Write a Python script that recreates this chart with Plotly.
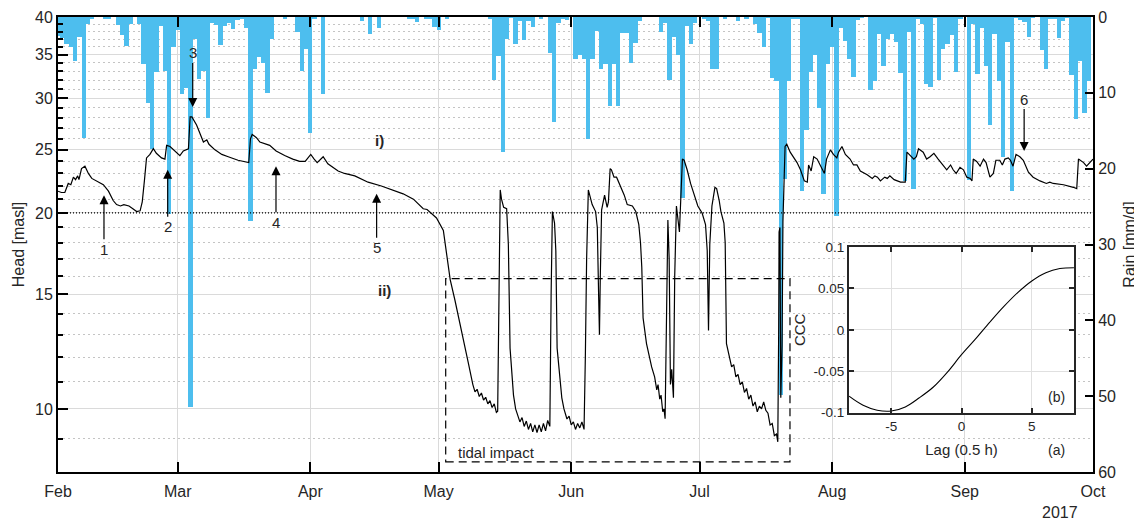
import math
import pandas as pd
import plotly.graph_objects as go

START = pd.Timestamp("2017-02-01")

# ---------------- data ----------------
rain_mm = [
    2.5, 2.8, 3.5, 4.0, 5.8, 2.7, 16.0, 0.9, 0.3, 0,
    0, 0.2, 0.3, 0, 1.0, 2.4, 3.8, 0.9, 0, 0.9,
    6.2, 11.3, 17.4, 7.2, 1.2, 7.1, 26.0, 4.0, 1.7, 10.2,
    9.3, 51.4, 2.9, 8.2, 7.1, 13.3, 0.8, 1.1, 3.7, 1.2,
    0.8, 1.6, 0.4, 0.3, 1.4, 26.9, 6.9, 5.3, 6.0, 10.0,
    2.9, 0, 0, 0.3, 0, 0, 2.0, 7.1, 4.2, 15.3,
    0.3, 0, 10.2, 0, 0, 0, 0, 0, 0, 0,
    0, 0.5, 0, 2.3, 0, 1.5, 0, 0, 0, 0,
    0, 0, 0.2, 0.3, 0.6, 0, 0.2, 0.2, 1.3, 1.7,
    0, 0.2, 0, 0, 0, 0, 0, 0, 0, 0,
    0, 0.2, 8.3, 5.1, 17.8, 2.9, 0.1, 3.6, 0.5, 3.0,
    0.5, 1.3, 0, 0.2, 0, 4.8, 13.8, 0.8, 0.3, 0.4,
    0, 5.5, 5.0, 5.6, 16.1, 5.5, 1.8, 6.8, 6.2, 11.7,
    6.2, 11.7, 2.1, 2.1, 6.0, 3.4, 0.5, 0, 0, 0,
    0, 2.0, 0.8, 8.3, 2.7, 5.0, 23.9, 1.2, 3.6, 0.8,
    0, 0.2, 0.5, 6.9, 6.9, 0, 0.2, 0, 0, 0.5,
    0, 0.2, 0, 0.9, 2.1, 4.0, 0.1, 8.0, 8.4, 49.8,
    21.4, 8.4, 0.3, 0.2, 22.9, 14.9, 7.2, 5.0, 12.0, 23.3,
    6.2, 3.9, 26.2, 1.4, 3.1, 5.5, 7.9, 0.4, 0.1, 0,
    9.6, 8.4, 2.2, 6.5, 2.9, 2.2, 3.3, 7.4, 21.6, 2.0,
    22.7, 0.3, 0.9, 8.9, 9.2, 0.1, 8.3, 4.2, 3.6, 2.4,
    7.2, 0.3, 0, 21.5, 0.9, 7.5, 1.4, 6.4, 14.2, 2.2,
    8.4, 18.4, 3.3, 22.9, 0.1, 0.4, 0.6, 2.6, 0.1, 0,
    4.4, 6.9, 0.3, 0.3, 2.8, 0.5, 0.1, 7.6, 13.5, 5.8,
    12.6, 8.4,
]

# head: days since 1 Feb 2017, value in masl
head_day = [
    0.0, 0.8, 1.6, 2.4, 3.0, 3.6, 4.1, 4.6, 4.9, 5.5, 6.3, 7.1, 7.9, 9.0, 10.6, 11.8,
    12.9, 13.7, 14.6, 15.4, 16.6, 17.5, 18.4, 19.2, 19.7, 20.2, 20.7, 21.5, 22.3, 23.0,
    24.2, 25.0, 25.4, 26.2, 27.4, 28.5, 29.3, 30.5, 30.9, 31.3, 32.4, 34.0, 34.8, 35.3,
    36.7, 38.3, 39.8, 42.1, 44.6, 45.0, 45.4, 46.4, 47.2, 48.7, 49.5, 51.0, 53.0, 54.9,
    56.5, 57.8, 58.3, 59.1, 59.9, 60.6, 62.0, 62.5, 63.1, 65.5, 67.0, 69.4, 72.5, 75.6,
    78.7, 80.7, 83.1, 85.4, 86.3, 88.5, 90.1, 90.9, 91.7, 92.8, 94.4, 95.9,
    97.0, 97.5, 98.0, 98.5, 99.0, 99.5, 100.0, 100.5, 101.0, 101.5, 102.0, 102.5, 102.8,
    103.15, 103.4, 103.7, 104.2, 104.9, 105.3, 105.7, 106.5, 107.0,
    107.5, 108.0, 108.5, 109.0, 109.5, 110.0, 110.5, 111.0, 111.5, 112.0, 112.5, 113.0,
    113.5, 114.0, 114.5, 115.0,
    115.3, 115.6, 116.1, 116.4, 116.7, 117.8, 118.3,
    118.5, 119.0, 119.5, 120.0, 120.5, 121.0, 121.5, 122.0, 122.5, 123.0,
    123.3, 123.6, 124.0, 124.9, 125.7, 126.1, 126.4, 126.6, 126.8, 127.1, 127.8, 128.4,
    128.7, 129.1, 129.4, 130.0, 130.6, 131.6, 132.4, 133.1, 134.3, 135.1, 135.8, 136.2,
    136.5, 136.8, 137.6, 138.8,
    139.5, 140.0, 140.3, 140.7, 141.0, 141.4, 141.7, 141.95,
    142.3, 142.6, 142.9, 143.2, 143.5, 143.9, 144.2, 144.6, 145.3, 146.0, 146.4, 147.1,
    147.9, 148.7, 149.6, 150.6, 151.4, 151.8, 152.1, 152.4, 152.9, 153.6, 154.0, 154.6,
    155.0, 155.7, 156.0, 156.3,
    157.0, 157.5, 158.0, 158.5, 159.0, 159.5, 160.0, 160.5, 161.0, 161.5, 162.0, 162.5,
    163.0, 163.5, 164.0, 164.5, 165.0, 165.5, 166.0, 166.5, 167.0, 167.5, 168.0, 168.3,
    168.5, 168.6, 168.8, 169.0, 169.3, 169.5, 170.0, 170.4,
    171.2, 172.8, 173.6, 174.5, 175.2, 175.5, 176.1, 176.7, 177.5, 178.2, 178.7, 179.2,
    179.7, 180.6, 181.3, 182.1, 182.5, 183.3, 184.1, 185.2, 186.0, 186.8, 187.6, 189.2,
    190.4, 191.0, 191.6, 192.3, 193.3, 193.9, 194.5, 195.5, 197.0, 198.1, 198.5, 199.3,
    200.1, 200.7, 201.2, 202.3, 203.1, 203.9, 204.8, 205.8, 207.0, 207.8, 208.7, 209.3,
    210.0, 210.9, 211.7, 212.5, 213.3, 213.7, 214.0, 214.8, 215.6, 216.4, 217.0, 217.9,
    218.7, 219.3, 220.2, 220.8, 221.4, 222.2, 222.7, 223.3, 224.0, 224.9, 225.7, 226.9,
    228.0, 229.6, 231.1, 231.9, 232.7, 235.1, 237.4, 238.2, 238.6, 239.8, 240.5, 241.3,
    242.0,
]
head_masl = [
    21.6, 21.5, 21.5, 22.2, 22.1, 22.7, 22.5, 22.8, 22.5, 23.4, 23.6, 23.0, 22.6, 22.4, 22.1, 21.6,
    20.9, 20.6, 20.5, 20.6, 20.5, 20.3, 20.1, 20.15, 20.8, 22.4, 24.3, 24.6, 25.1, 24.7,
    24.3, 24.2, 25.4, 25.3, 24.9, 24.5, 24.9, 25.1, 28.1, 28.1, 27.3, 25.7, 25.9, 25.5,
    25.0, 24.6, 24.4, 24.1, 23.9, 26.0, 26.4, 26.1, 25.7, 25.5, 25.4, 24.9, 24.5, 24.2,
    24.0, 24.0, 24.2, 24.6, 24.2, 23.9, 24.4, 24.1, 23.8, 23.2, 23.0, 22.8, 22.3, 22.0,
    21.6, 21.4, 21.0, 20.3, 20.25, 19.65, 18.8, 17.2, 15.8, 14.7, 13.2, 11.8,
    10.90, 10.62, 10.72, 10.45, 10.58, 10.32, 10.42, 10.18, 10.30, 10.05, 10.18, 9.88, 9.92,
    15.0, 21.7, 21.0, 20.4, 20.3, 17.9, 12.4, 10.5, 10.0,
    9.80, 9.55, 9.70, 9.40, 9.58, 9.30, 9.50, 9.22, 9.45, 9.20, 9.45, 9.22,
    9.50, 9.25, 9.60, 9.40,
    15.0, 20.1, 19.3, 17.5, 12.4, 10.4, 10.0,
    9.90, 9.65, 9.75, 9.45, 9.55, 9.30, 9.50, 9.35, 9.55, 9.30,
    12.0, 17.0, 21.7, 20.6, 20.1, 19.0, 15.0, 13.0, 16.0, 20.2, 21.3, 20.4,
    20.8, 23.4, 23.3, 22.7, 22.7, 21.9, 21.3, 20.6, 20.5, 20.1, 19.2, 18.0,
    16.5, 13.8, 12.6, 11.6,
    11.2, 10.7, 10.9, 10.35, 10.5, 9.9, 10.0, 9.66,
    16.0, 19.5, 17.0, 10.9, 11.5, 10.4, 16.0, 20.5, 18.7, 24.2, 24.1, 23.3,
    22.2, 21.4, 20.5, 20.0, 19.2, 17.5, 13.2, 17.9, 20.5, 21.9, 21.8, 20.9,
    20.1, 19.3, 18.0, 12.6,
    12.0, 11.6, 11.7, 11.2, 11.3, 10.9, 11.0, 10.6, 10.75, 10.35, 10.5, 10.1,
    10.25, 9.9, 10.1, 10.0, 10.25, 9.95, 9.85, 9.45, 9.5, 9.1, 9.15, 8.9,
    13.0, 18.7, 19.0, 10.4, 12.5, 19.4, 25.3, 25.5,
    24.8, 23.9, 23.3, 22.4, 22.3, 23.7, 23.2, 24.4, 24.2, 23.7, 23.4, 23.0,
    24.2, 25.0, 24.6, 24.3, 24.8, 25.3, 24.6, 24.2, 23.7, 23.7, 23.2, 22.9,
    22.6, 22.8, 22.7, 22.4, 22.7, 22.6, 22.8, 22.5, 22.3, 22.3, 24.8, 24.5,
    24.2, 24.4, 25.1, 24.8, 24.2, 24.4, 24.7, 24.2, 23.7, 23.3, 23.7, 23.3,
    23.0, 23.5, 23.3, 22.7, 22.6, 22.4, 24.2, 24.0, 23.6, 24.2, 23.9, 22.7,
    23.0, 24.1, 24.1, 23.7, 24.2, 24.3, 24.1, 23.6, 24.6, 24.4, 24.1, 23.1,
    22.7, 22.4, 22.2, 22.3, 22.2, 22.1, 21.9, 21.8, 24.2, 23.9, 23.6, 23.9,
    24.2,
]

lag = [-8, -7, -6, -5, -4, -3, -2, -1, 0, 1, 2, 3, 4, 5, 6, 7, 8]
ccc = [-0.080, -0.091, -0.097, -0.098, -0.093, -0.082, -0.069, -0.051, -0.030,
       -0.011, 0.009, 0.028, 0.045, 0.059, 0.069, 0.074, 0.075]

month_ticks = ["2017-02-01", "2017-03-01", "2017-04-01", "2017-05-01", "2017-06-01",
               "2017-07-01", "2017-08-01", "2017-09-01", "2017-10-01"]
month_labels = ["Feb", "Mar", "Apr", "May", "Jun", "Jul", "Aug", "Sep", "Oct"]
head_major = [10, 15, 20, 25, 30, 35, 40]
head_minor = [v for v in range(8, 40) if v not in head_major]
rain_ticks = [0, 10, 20, 30, 40, 50, 60]

# event annotations: (label, day offset, head value, vertical offset px)
events = [("1", 10.75, 21.3, 54), ("2", 25.65, 23.3, 57), ("3", 31.5, 29.1, -54),
          ("4", 50.97, 23.6, 56), ("5", 74.5, 21.4, 54), ("6", 225.9, 24.9, -52)]

rain_dates = pd.date_range(START, periods=len(rain_mm), freq="D")
head_dates = START + pd.to_timedelta(head_day, unit="D")


def day(d):
    return (START + pd.Timedelta(days=d)).strftime("%Y-%m-%d %H:%M:%S")


FONT = "Liberation Sans, Arial, Helvetica, sans-serif"
TXT = "#262626"

fig = go.Figure()
fig.add_trace(go.Bar(x=rain_dates, y=rain_mm, width=86400000, marker=dict(color="#4DBEEE", line=dict(width=0)),
                     xaxis="x", yaxis="y", showlegend=False))
fig.add_trace(go.Scatter(x=head_dates, y=head_masl, mode="lines", line=dict(color="black", width=1.2),
                         xaxis="x", yaxis="y2", showlegend=False))
fig.add_trace(go.Scatter(x=lag, y=ccc, mode="lines", line=dict(color="black", width=1.1, shape="spline"),
                         xaxis="x3", yaxis="y3", showlegend=False))

annotations = []
for lab, d, v, off in events:
    annotations.append(dict(x=day(d), y=math.log10(v), xref="x", yref="y2", text=lab, showarrow=True,
                            ax=0, ay=off, arrowhead=2, arrowsize=1.5, arrowwidth=1.2, arrowcolor="black",
                            font=dict(size=15, color=TXT)))


def label(x, y, text, size, xanchor="center", ref="paper"):
    return dict(x=x, y=y, xref=ref if ref == "paper" else "x3", yref=ref if ref == "paper" else "y3",
                text=text, showarrow=False, xanchor=xanchor, yanchor="middle",
                font=dict(size=size, color=TXT))


annotations += [
    label(0.311, 0.7275, "<b>i)</b>", 15),
    label(0.315, 0.398, "<b>ii)</b>", 15),
    label(0.3845, 0.0424, "tidal impact", 15, xanchor="left"),
    label(6.74, -0.081, "(b)", 14, ref="inset"),
    label(0.965, 0.0484, "(a)", 14),
    label(0.968, -0.09, "2017", 16),
]

shapes = [
    dict(type="line", xref="paper", x0=0, x1=1, yref="y2", y0=20, y1=20,
         line=dict(color="black", width=1.2, dash="1px,2px"), layer="above"),
    dict(type="rect", xref="x", yref="y2", x0=day(90.65), x1=day(171.15), y0=8.29, y1=15.86,
         line=dict(color="black", width=1.2, dash="8px,5px"), layer="above"),
]

# page body has an 8px default margin, so the figure is 8px smaller than the window
fig.update_layout(
    width=1134, height=514, margin=dict(l=50, r=49, t=9, b=50, autoexpand=False),
    paper_bgcolor="white", plot_bgcolor="white", bargap=0, showlegend=False,
    font=dict(family=FONT, size=16, color=TXT),
    xaxis=dict(type="date", range=["2017-02-01", "2017-10-01"], tickvals=month_ticks, ticktext=month_labels,
               ticks="inside", ticklen=10, tickwidth=2, tickcolor="black", showline=True, linewidth=2,
               linecolor="black", mirror="ticks", showgrid=True, gridcolor="#dadada", gridwidth=1.3,
               zeroline=False, anchor="y", tickfont=dict(size=16), automargin=False, ticklabelstandoff=4),
    yaxis=dict(range=[60, 0], side="right", tickvals=rain_ticks, ticks="inside", ticklen=8, tickwidth=2,
               tickcolor="black", showline=True, linewidth=2, linecolor="black", showgrid=False,
               zeroline=False, anchor="x", tickfont=dict(size=16), automargin=False,
               title=dict(text="Rain [mm/d]", standoff=9, font=dict(size=16))),
    yaxis2=dict(type="log", range=[math.log10(8), math.log10(40)], overlaying="y", side="left", anchor="x",
                tickvals=head_major, ticktext=[str(v) for v in head_major], ticks="inside", ticklen=10,
                tickwidth=2, tickcolor="black", showline=True, linewidth=2, linecolor="black",
                showgrid=True, gridcolor="#dadada", gridwidth=1.3, zeroline=False, tickfont=dict(size=16),
                automargin=False,
                minor=dict(tickmode="array", tickvals=head_minor, ticks="inside", ticklen=5, tickwidth=2,
                           tickcolor="black", showgrid=True, gridcolor="#c4c4c4", griddash="1.5px,3.5px",
                           gridwidth=1.2),
                title=dict(text="Head [masl]", standoff=6, font=dict(size=16))),
    xaxis3=dict(domain=[0.7643, 0.9816], anchor="y3", range=[-8, 8], tickvals=[-5, 0, 5],
                ticktext=["-5", "0", "5"], ticks="inside", ticklen=5, tickwidth=1.5, tickcolor=TXT,
                showline=True, linewidth=2, linecolor=TXT, mirror="allticks", showgrid=True,
                gridcolor="#e0e0e0", gridwidth=1, zeroline=False, tickfont=dict(size=13.5, color=TXT),
                automargin=False,
                title=dict(text="Lag (0.5 h)", standoff=12, font=dict(size=15, color=TXT))),
    yaxis3=dict(domain=[0.1303, 0.4945], anchor="x3", range=[-0.1, 0.1],
                tickvals=[-0.1, -0.05, 0, 0.05, 0.1], ticktext=["-0.1", "-0.05", "0", "0.05", "0.1"],
                ticks="inside", ticklen=5, tickwidth=1.5, tickcolor=TXT, showline=True, linewidth=2,
                linecolor=TXT, mirror="allticks", showgrid=True, gridcolor="#e0e0e0", gridwidth=1,
                zeroline=False, tickfont=dict(size=13.5, color=TXT), automargin=False,
                title=dict(text="CCC", standoff=4, font=dict(size=15, color=TXT))),
    annotations=annotations, shapes=shapes,
)

fig.write_html("out.html")
